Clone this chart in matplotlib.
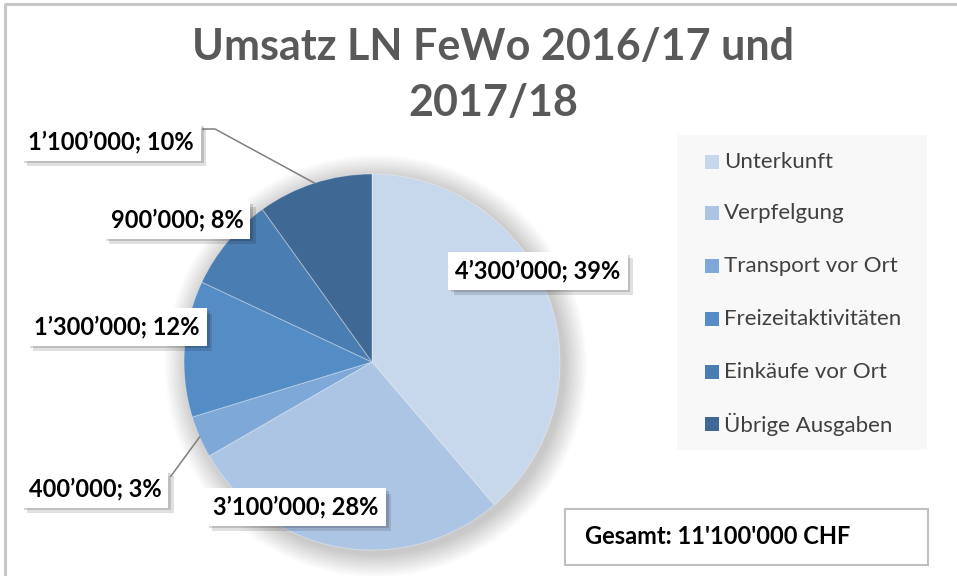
import matplotlib
matplotlib.use("Agg")
import matplotlib.pyplot as plt
from matplotlib.patches import Rectangle, Circle
import matplotlib.patheffects as pe
import numpy as np

categories = ["Unterkunft", "Verpfelgung", "Transport vor Ort",
              "Freizeitaktivitäten", "Einkäufe vor Ort", "Übrige Ausgaben"]
values = [4300000, 3100000, 400000, 1300000, 900000, 1100000]
value_labels = ["4’300’000", "3’100’000", "400’000", "1’300’000", "900’000", "1’100’000"]
pct_labels = ["39%", "28%", "3%", "12%", "8%", "10%"]
colors = ["#C7D7EC", "#ADC5E5", "#7DA8D8", "#548DC6", "#4A7DB1", "#3F6894"]
title_lines = ["Umsatz LN FeWo 2016/17 und", "2017/18"]
total_text = "Gesamt: 11'100'000 CHF"

W, H = 957, 576
FONT = ["Lato", "DejaVu Sans"]
plt.rcParams["font.family"] = FONT

fig = plt.figure(figsize=(W / 100, H / 100), dpi=100)
ax = fig.add_axes([0, 0, 1, 1])

def Y(py):
    return H - py

cx, cy, R = 372, 362, 188

wedges, _ = ax.pie(values, colors=colors, startangle=90, counterclock=False,
                   center=(cx, Y(cy)), radius=R, frame=True,
                   wedgeprops=dict(edgecolor=(1, 1, 1, 0.35), linewidth=0.7, zorder=2))
ax.set_xlim(0, W)
ax.set_ylim(0, H)
ax.set_aspect("equal")
ax.axis("off")

# frame (left and top)
ax.plot([5, 5], [Y(576), Y(4)], color="#C8C8C8", lw=2.2, solid_capstyle="butt")
ax.plot([4, 957], [Y(4), Y(4)], color="#C8C8C8", lw=2.2, solid_capstyle="butt")

# soft shadow
for i in range(18):
    ax.add_patch(Circle((cx + 4, Y(cy) - 4), R + 1 + i * 1.3, facecolor="black",
                        edgecolor="none", alpha=0.010, zorder=1))

# title
ax.text(493, Y(60), title_lines[0], ha="center", va="baseline", fontsize=31,
        fontweight="bold", color="#595959")
ax.text(493, Y(116), title_lines[1], ha="center", va="baseline", fontsize=31,
        fontweight="bold", color="#595959")

# data labels (box centers in pixels)
label_pos = [(538, 271), (296, 507), (95, 489), (117, 327), (177, 220), (111, 142)]
for i, (lx, ly) in enumerate(label_pos):
    t = ax.text(lx, Y(ly), f"{value_labels[i]}; {pct_labels[i]}", ha="center", va="center",
                fontsize=17, fontweight="bold", color="black", zorder=6,
                bbox=dict(boxstyle="square,pad=0.3", facecolor="white", edgecolor="none"))
    t.get_bbox_patch().set_path_effects([
        pe.withSimplePatchShadow(offset=(4, -4), shadow_rgbFace="black", alpha=0.12),
        pe.withSimplePatchShadow(offset=(2, -2), shadow_rgbFace="black", alpha=0.15),
        pe.Normal()])

# leader lines for small slices
def edge_point(w):
    a = np.deg2rad((w.theta1 + w.theta2) / 2)
    return cx + R * np.cos(a), Y(cy) + R * np.sin(a)

ex, ey = edge_point(wedges[5])
ax.plot([203, 215, ex], [Y(129), Y(129), ey], color="#7F7F7F", lw=1.1, zorder=5)
ex, ey = edge_point(wedges[2])
ax.plot([171, ex], [Y(476), ey], color="#7F7F7F", lw=1.1, zorder=5)

# legend background
ax.add_patch(Rectangle((677, Y(450)), 250, 315, facecolor="#F8F8F8", edgecolor="none", zorder=0.5))
leg_y = [162, 213, 266, 319, 372, 424]
for i, (c, lab) in enumerate(zip(colors, categories)):
    ax.add_patch(Rectangle((705, Y(leg_y[i]) - 7), 14, 14, facecolor=c, edgecolor="none", zorder=3))
    ax.text(724, Y(leg_y[i]), lab, ha="left", va="center", fontsize=16, color="#404040", zorder=3)

# total box
ax.add_patch(Rectangle((565, Y(565)), 363, 56, facecolor="white", edgecolor="#BFBFBF", lw=1.5, zorder=4))
ax.text(585, Y(537), total_text, ha="left", va="center", fontsize=17, fontweight="bold",
        color="black", zorder=5)

fig.savefig("out.png", dpi=100)
